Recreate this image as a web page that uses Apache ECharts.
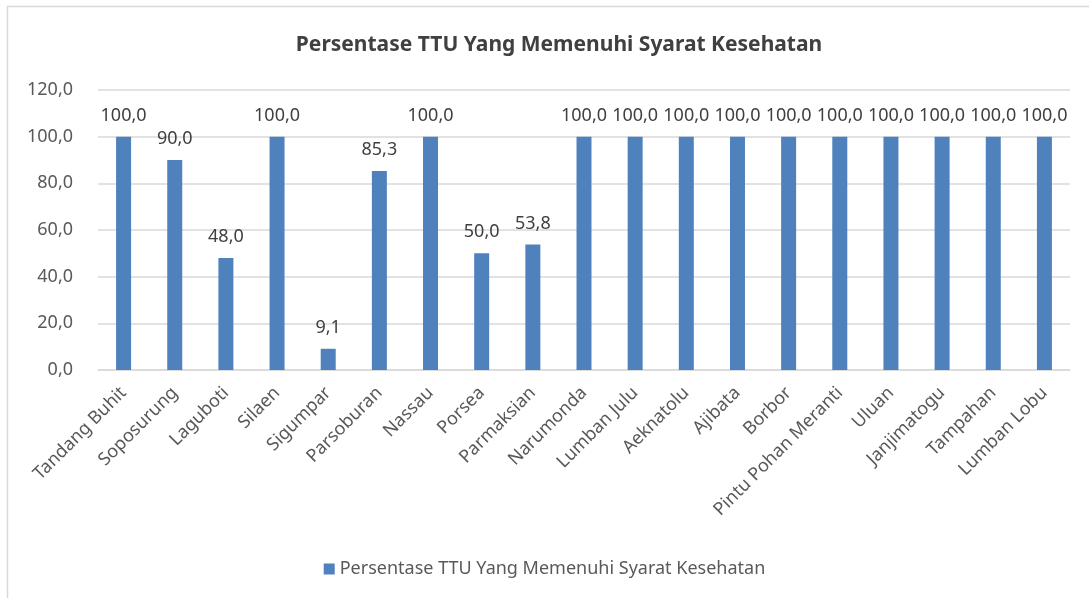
<!DOCTYPE html>
<html>
<head>
<meta charset="utf-8">
<script src="https://cdn.jsdelivr.net/npm/echarts@6/dist/echarts.min.js"></script>
<style>html,body{margin:0;padding:0;background:#fff;}#c{width:1089px;height:598px;}</style>
</head>
<body>
<div id="c"></div>
<script>
const categories = ["Tandang Buhit","Soposurung","Laguboti","Silaen","Sigumpar","Parsoburan","Nassau","Porsea","Parmaksian","Narumonda","Lumban Julu","Aeknatolu","Ajibata","Borbor","Pintu Pohan Meranti","Uluan","Janjimatogu","Tampahan","Lumban Lobu"];
const values = [100.0,90.0,48.0,100.0,9.1,85.3,100.0,50.0,53.8,100.0,100.0,100.0,100.0,100.0,100.0,100.0,100.0,100.0,100.0];
const seriesName = "Persentase TTU Yang Memenuhi Syarat Kesehatan";
const titleText = "Persentase TTU Yang Memenuhi Syarat Kesehatan";

const fmt = v => Number(v).toFixed(1).replace('.', ',');
const FONT = "Noto Sans";
const chart = echarts.init(document.getElementById('c'), null, {renderer:'canvas'});
chart.setOption({
  animation: false,
  textStyle: {fontFamily: FONT},
  graphic: [{
    type: 'polyline',
    shape: {points: [[7.5, 598], [7.5, 6.5], [1089, 6.5]]},
    style: {stroke: '#D9D9D9', lineWidth: 1.5, fill: null},
    silent: true
  }],
  title: {
    text: titleText,
    left: 554, top: 30, textAlign: 'center',
    textStyle: {fontFamily: FONT, fontSize: 21, fontWeight: 'bold', color: '#404040'}
  },
  legend: {
    data: [seriesName],
    left: 'center', top: 555,
    itemWidth: 11, itemHeight: 11, itemGap: 6,
    icon: 'rect',
    textStyle: {fontFamily: FONT, fontSize: 18, color: '#595959'}
  },
  grid: {left: 98, right: 19, top: 90, bottom: 228, containLabel: false},
  xAxis: {
    type: 'category',
    data: categories,
    axisTick: {show: false},
    axisLine: {show: true, lineStyle: {color: '#D9D9D9', width: 1.5}},
    axisLabel: {interval: 0, rotate: 45, margin: 20, fontFamily: FONT, fontSize: 18, color: '#595959'}
  },
  yAxis: {
    type: 'value', min: 0, max: 120, interval: 20,
    axisLine: {show: false}, axisTick: {show: false},
    splitLine: {lineStyle: {color: '#D9D9D9', width: 1.5}},
    axisLabel: {formatter: fmt, margin: 25, fontFamily: FONT, fontSize: 18, color: '#595959'}
  },
  series: [{
    name: seriesName,
    type: 'bar',
    data: values,
    barWidth: 15,
    itemStyle: {color: '#4F81BD'},
    label: {
      show: true, position: 'top', distance: 12,
      formatter: p => fmt(p.value),
      fontFamily: FONT, fontSize: 18, color: '#404040'
    }
  }]
});
</script>
</body>
</html>
